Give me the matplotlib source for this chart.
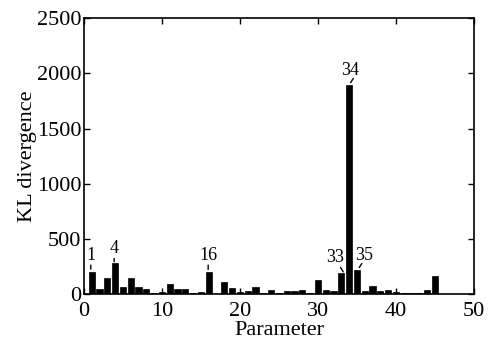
import matplotlib
matplotlib.use('Agg')
import matplotlib.pyplot as plt
from matplotlib.transforms import ScaledTranslation

# KL divergence per parameter (1..49)
params = list(range(1, 50))
kl = [202, 45, 148, 278, 60, 148, 60, 42, 8, 20,
      91, 48, 48, 8, 20, 202, 2, 112, 51, 15,
      30, 66, 8, 36, 8, 24, 24, 36, 8, 127,
      36, 27, 193, 1893, 217, 27, 72, 27, 36, 21,
      12, 9, 9, 36, 166, 0, 0, 0, 0]

# labelled parameters
marked = [1, 4, 16, 33, 34, 35]
# text position (centre x, baseline y) and tick-line ends, in points from the bar top
text_off = [(-0.5, 8.3), (-1, 7.4), (0, 8.3), (-4.6, 7.7), (0.6, 7.2), (5.2, 7.2)]
line_start = [(-0.7, 4.8), (-0.7, 3.6), (-0.4, 4.8), (-0.5, 3.9), (3.0, 4.8), (3.6, 4.8)]
line_end = [(-0.7, 1.9), (-0.7, 1.2), (-0.4, 1.7), (1.4, 0.7), (1.1, 1.7), (1.7, 1.9)]

plt.rcParams['font.family'] = ['Liberation Serif', 'DejaVu Serif']
plt.rcParams['font.size'] = 16

fig = plt.figure(figsize=(4.91, 3.42), dpi=100)
ax = fig.add_axes([0.171, 0.140, 0.794, 0.807])

ax.bar(params, kl, width=0.8, color='k', edgecolor='k', linewidth=0.5)

for p, t, s, e in zip(marked, text_off, line_start, line_end):
  v = kl[p-1]
  ax.annotate(str(p), xy=(p, v), xytext=t, textcoords='offset points',
              ha='center', va='baseline', fontsize=13)
  end_tr = ax.transData + ScaledTranslation(e[0]/72., e[1]/72., fig.dpi_scale_trans)
  ax.annotate('', xy=(p, v), xycoords=end_tr,
              xytext=(s[0]-e[0], s[1]-e[1]), textcoords='offset points',
              arrowprops=dict(arrowstyle='-', lw=1, color='k', shrinkA=0, shrinkB=0))

ax.set_xlim(0, 50)
ax.set_ylim(0, 2500)
ax.set_xticks(range(0, 51, 10))
ax.set_yticks(range(0, 2501, 500))
ax.tick_params(direction='in', length=4, width=1, top=True, right=True, labelsize=16)
ax.tick_params(axis='y', pad=2)
ax.tick_params(axis='x', pad=6)
for sp in ax.spines.values():
  sp.set_linewidth(1.2)

ax.set_xlabel('Parameter', labelpad=0)
ax.set_ylabel('KL divergence', labelpad=0)

fig.savefig('out.png', dpi=100)
